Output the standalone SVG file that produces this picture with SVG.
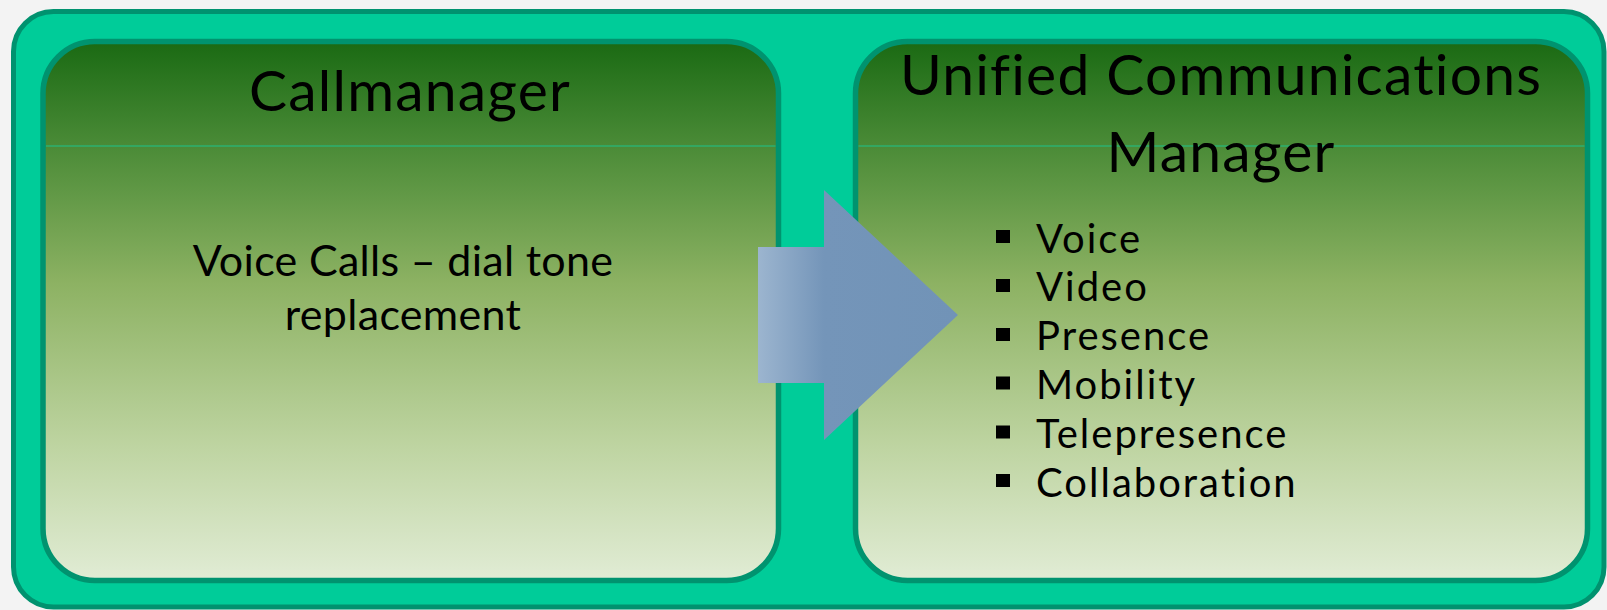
<svg xmlns="http://www.w3.org/2000/svg" width="1607" height="610" viewBox="0 0 1607 610">
  <defs>
    <linearGradient id="boxGrad" x1="0" y1="0" x2="0" y2="1">
      <stop offset="0" stop-color="#1A6A13"/>
      <stop offset="0.2" stop-color="#4C8C38"/>
      <stop offset="0.45" stop-color="#8DB263"/>
      <stop offset="0.75" stop-color="#BED4A1"/>
      <stop offset="1" stop-color="#E1ECD5"/>
    </linearGradient>
    <linearGradient id="arrowGrad" gradientUnits="userSpaceOnUse" x1="758" y1="0" x2="958" y2="0">
      <stop offset="0" stop-color="#9CB5CF"/>
      <stop offset="0.33" stop-color="#7495B9"/>
      <stop offset="1" stop-color="#7193B7"/>
    </linearGradient>
    <style>
      .box { fill: url(#boxGrad); stroke: #00936F; stroke-width: 5.5; }
      .divider { stroke: #2DB070; stroke-width: 1.5; }
      .title { font-family: Lato, "Open Sans", sans-serif; font-size: 57px; letter-spacing: 1.2px; fill: #000; text-anchor: middle; }
      .body { font-family: Lato, "Open Sans", sans-serif; font-size: 43px; letter-spacing: 0.3px; fill: #000; text-anchor: middle; }
      .item { font-family: Lato, "Open Sans", sans-serif; font-size: 40px; letter-spacing: 2px; fill: #000; }
      .bullet { fill: #000; }
    </style>
  </defs>

  <rect x="0" y="0" width="1607" height="610" fill="#F3F3F3"/>

  <g id="container">
    <rect x="13.5" y="11.5" width="1590.5" height="595.5" rx="40" ry="40" fill="#00CC99" stroke="#00926F" stroke-width="5"/>
  </g>

  <g id="node-callmanager">
    <rect class="box" x="43" y="41.5" width="735.5" height="539" rx="52" ry="52"/>
    <line class="divider" x1="46" y1="146" x2="775.5" y2="146"/>
    <text class="title" x="410" y="111">Callmanager</text>
    <text class="body" x="403" y="276">Voice Calls – dial tone</text>
    <text class="body" x="403" y="330">replacement</text>
  </g>

  <g id="node-ucm">
    <rect class="box" x="855.5" y="41.5" width="732" height="539" rx="52" ry="52"/>
    <line class="divider" x1="858.5" y1="146" x2="1584.5" y2="146"/>
    <text class="title" x="1221" y="95">Unified Communications</text>
    <text class="title" x="1221" y="172">Manager</text>
    <g id="ucm-list">
      <rect class="bullet" x="996" y="230" width="14" height="13"/>
      <text class="item" x="1036" y="252.5">Voice</text>
      <rect class="bullet" x="996" y="279" width="14" height="13"/>
      <text class="item" x="1036" y="301.3">Video</text>
      <rect class="bullet" x="996" y="328" width="14" height="13"/>
      <text class="item" x="1036" y="350.1">Presence</text>
      <rect class="bullet" x="996" y="376.5" width="14" height="13"/>
      <text class="item" x="1036" y="398.9">Mobility</text>
      <rect class="bullet" x="996" y="425.5" width="14" height="13"/>
      <text class="item" x="1036" y="447.7">Telepresence</text>
      <rect class="bullet" x="996" y="474" width="14" height="13"/>
      <text class="item" x="1036" y="496.5">Collaboration</text>
    </g>
  </g>

  <g id="connectors">
    <path d="M758,247 L824,247 L824,190 L958,315 L824,440 L824,383 L758,383 Z" fill="url(#arrowGrad)"/>
  </g>
</svg>
